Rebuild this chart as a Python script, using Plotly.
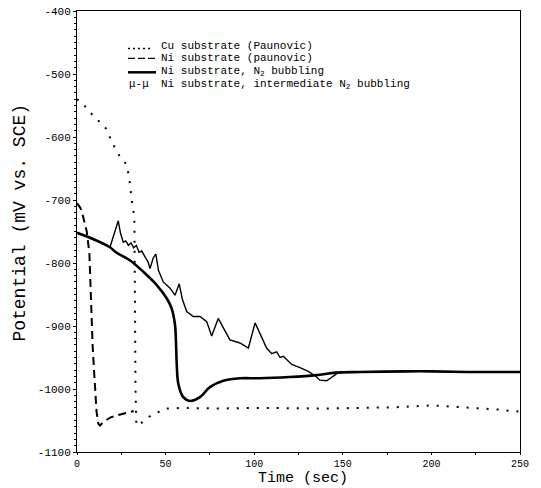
import plotly.graph_objects as go

# ---------------- data ----------------
cu_t = [0, 3, 7, 11, 16, 21, 24, 28, 29.5, 30.8, 31.8, 32.4, 32.7, 32.8, 33.0, 33.5, 36, 39, 42, 45, 50,
        60, 80, 100, 120, 140, 160, 180, 200, 210, 220, 230, 240, 247, 250]
cu_v = [-540, -546, -560, -571, -585, -615, -630, -644, -665, -699, -715, -736, -800, -900, -1000, -1058,
        -1055, -1047, -1042, -1038, -1031, -1030, -1031, -1030, -1031, -1031, -1030, -1029, -1026, -1028,
        -1030, -1031, -1033, -1036, -1035]

ni_t = [0, 2, 3.5, 5.5, 7, 7.5, 8, 8.8, 9.5, 10.3, 11, 12, 13, 15, 19, 25, 32]
ni_v = [-705, -713, -727, -750, -785, -830, -875, -930, -965, -1000, -1035, -1055, -1058, -1052, -1045,
        -1040, -1035]

n2_t = [0, 10, 18.6, 22, 30, 37.4, 45, 50.6, 53.4, 55.3, 55.9, 56.3, 57.2, 60, 63.8, 69.4, 75, 82.6, 92,
        103, 120, 135, 146, 160, 186, 200, 220, 250]
n2_v = [-752, -763, -775, -783, -796, -814, -835, -856, -872, -898, -929, -961, -992, -1013, -1019, -1013,
        -997, -987, -983, -983, -981, -978, -974, -973, -972, -972, -973, -973]

mu_t = [18.6, 21, 23.3, 24.5, 26.1, 27.5, 29, 30.5, 32, 33.5, 35, 36.5, 38.4, 40.2, 41.2, 43, 44.5, 46,
        48.7, 52.5, 55.3, 57.7, 59.5, 61.9, 65.6, 69.4, 73.2, 76, 79.7, 83.5, 86.3, 92, 96.7, 100.5, 104.2,
        107, 109.9, 112.7, 114.6, 116.5, 118.3, 121.2, 125.8, 130.5, 134.3, 137.1, 140.9, 144.6, 147.5]
mu_v = [-775, -755, -733, -752, -767, -765, -772, -768, -776, -772, -783, -781, -791, -799, -809, -792,
        -786, -812, -830, -840, -851, -833, -858, -877, -885, -885, -893, -916, -888, -909, -922, -927,
        -935, -895, -919, -935, -944, -941, -950, -948, -953, -961, -966, -972, -979, -986, -987, -979, -974]

x_ticks = [0, 50, 100, 150, 200, 250]
x_tick_labels = ["0", "50", "100", "150", "200", "250"]
y_ticks = [-400, -500, -600, -700, -800, -900, -1000, -1100]
y_tick_labels = ["-400", "-500", "-600", "-700", "-800", "-900", "-1000", "-1100"]

legend_names = ["Cu substrate (Paunovic)", "Ni substrate (paunovic)",
                "Ni substrate, N<sub>2</sub> bubbling",
                "Ni substrate, intermediate N<sub>2</sub> bubbling"]

# ---------------- figure ----------------
W, H = 541, 488
L, R, T, B = 77, 21, 6, 36
PW, PH = W - L - R, H - T - B

def px(xp):
    return (xp - L) / PW

def py(yp):
    return (H - B - yp) / PH

fig = go.Figure()
fig.add_trace(go.Scatter(x=cu_t, y=cu_v, mode="lines",
                         line=dict(color="black", width=2, dash="2px,8px"), showlegend=False))
fig.add_trace(go.Scatter(x=ni_t, y=ni_v, mode="lines",
                         line=dict(color="black", width=2, dash="8px,5px"), showlegend=False))
fig.add_trace(go.Scatter(x=n2_t, y=n2_v, mode="lines", line_shape="spline",
                         line=dict(color="black", width=2.6), showlegend=False))
fig.add_trace(go.Scatter(x=mu_t, y=mu_v, mode="lines",
                         line=dict(color="black", width=1.4), showlegend=False))

FONT = "Liberation Mono"
axis_line = dict(showline=True, linecolor="black", linewidth=1, mirror=True, showgrid=False,
                 zeroline=False, ticks="outside", tickcolor="black")

fig.update_xaxes(range=[0, 250], tickmode="array", tickvals=x_ticks, ticktext=x_tick_labels,
                 ticklen=2, tickfont=dict(family=FONT, size=10, color="black"),
                 minor=dict(dtick=25, ticks="outside", ticklen=2, tickcolor="black"), **axis_line)
fig.update_yaxes(range=[-1100, -400], tickmode="array", tickvals=y_ticks, ticktext=y_tick_labels,
                 ticklen=3, tickfont=dict(family=FONT, size=11, color="black"),
                 minor=dict(dtick=10, tick0=-400, ticks="outside", ticklen=2, tickcolor="black"),
                 **axis_line)

annotations = [
    dict(text="Time (sec)", xref="paper", yref="paper", x=px(303), y=0, yshift=-26,
         xanchor="center", yanchor="middle", showarrow=False, borderpad=0,
         font=dict(family=FONT, size=15, color="black")),
    dict(text="Potential (mV vs. SCE)", xref="paper", yref="paper", x=0, xshift=-57, y=py(220),
         xanchor="center", yanchor="middle", textangle=-90, showarrow=False,
         font=dict(family=FONT, size=18, color="black")),
]
rows = [41, 54, 67, 80]
for name, r in zip(legend_names, rows):
    annotations.append(dict(text=name, xref="paper", yref="paper", x=px(160), y=py(r),
                            xanchor="left", yanchor="middle", showarrow=False, borderpad=0,
                            font=dict(family=FONT, size=11, color="black")))
annotations.append(dict(text="μ-μ", xref="paper", yref="paper", x=px(128), y=py(rows[3]),
                        xanchor="left", yanchor="middle", showarrow=False, borderpad=0,
                        font=dict(family=FONT, size=11, color="black")))

shapes = [
    dict(type="line", xref="paper", yref="paper", x0=px(128), x1=px(152), y0=py(rows[0] + 3),
         y1=py(rows[0] + 3), line=dict(color="black", width=1.6, dash="2px,3px")),
    dict(type="line", xref="paper", yref="paper", x0=px(128), x1=px(156), y0=py(rows[1]),
         y1=py(rows[1]), line=dict(color="black", width=1.3, dash="7px,3px")),
    dict(type="line", xref="paper", yref="paper", x0=px(128), x1=px(156), y0=py(rows[2] + 1),
         y1=py(rows[2] + 1), line=dict(color="black", width=2.5)),
]

fig.update_layout(width=W, height=H, margin=dict(l=L, r=R, t=T, b=B, pad=0),
                  paper_bgcolor="white", plot_bgcolor="white",
                  annotations=annotations, shapes=shapes, showlegend=False)

fig.write_html("out.html")
